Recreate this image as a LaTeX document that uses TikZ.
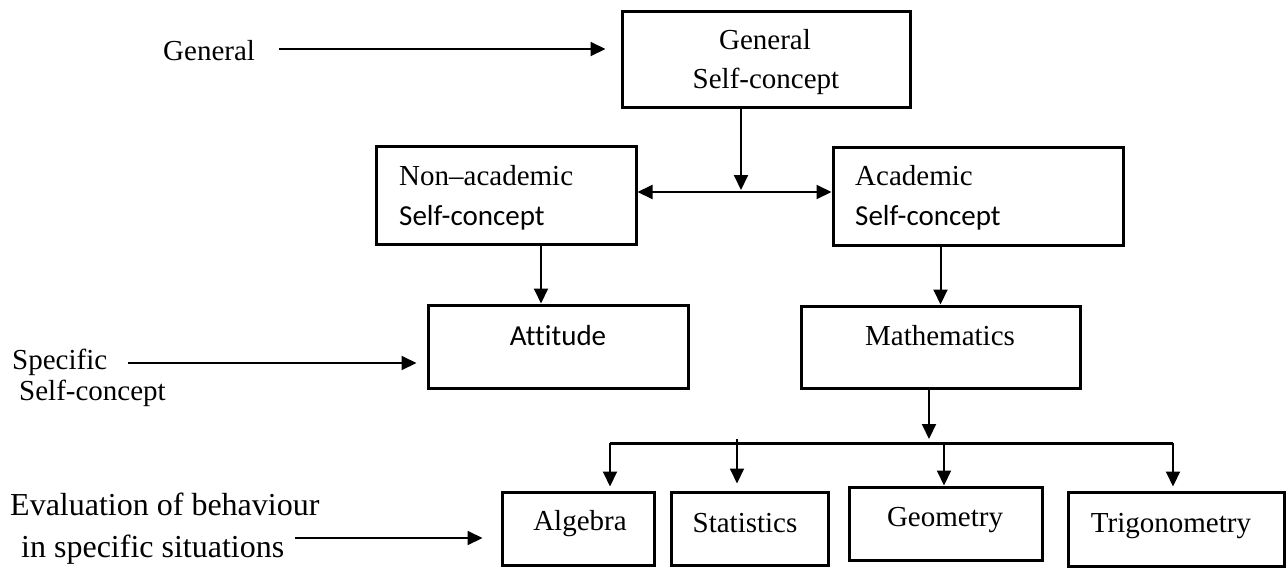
\documentclass[tikz,border=0pt]{standalone}
\usepackage{fontspec}
\setmainfont{Liberation Serif}
\newfontfamily\calib[Ligatures=NoCommon]{Carlito}
\usetikzlibrary{arrows.meta}
\begin{document}
\begin{tikzpicture}[x=1pt,y=-1pt,
  box/.style={draw,line width=3pt,inner sep=0pt},
  txt/.style={inner sep=0pt,font=\fontsize{29}{34}\selectfont},
  btxt/.style={inner sep=0pt,font=\fontsize{32}{38}\selectfont},
  stxt/.style={inner sep=0pt,font=\fontsize{29}{34}\selectfont\calib},
  arr/.style={line width=2pt,-{Triangle[length=15pt,width=14pt]}},
  darr/.style={line width=2pt,{Triangle[length=15pt,width=14pt]}-{Triangle[length=15pt,width=14pt]}},
  bar/.style={line width=3pt}
]
\useasboundingbox (0,0) rectangle (1286,568);

% boxes
\node[box,minimum width=288pt,minimum height=96pt] (gen) at (766,59) {};
\node[box,minimum width=260pt,minimum height=98pt] (nonac) at (506,195) {};
\node[box,minimum width=290pt,minimum height=98pt] (acad) at (978,196) {};
\node[box,minimum width=260pt,minimum height=83pt] (att) at (558,346.5) {};
\node[box,minimum width=279pt,minimum height=82pt] (math) at (940.5,347) {};
\node[box,minimum width=152pt,minimum height=73pt] (alg) at (578,528.5) {};
\node[box,minimum width=157pt,minimum height=73pt] (stat) at (749.5,528.5) {};
\node[box,minimum width=193pt,minimum height=73pt] (geo) at (945.5,523.5) {};
\node[box,minimum width=216pt,minimum height=74pt] (trig) at (1176,529) {};

% box texts
\node[txt,anchor=base] (gent1) at (765,49) {General};
\node[txt,anchor=base] (gent2) at (766,88) {Self-concept};
\node[txt,anchor=base west] (nonact1) at (399,185) {Non–academic};
\node[stxt,anchor=base west] (nonact2) at (399,225) {Self-concept};
\node[txt,anchor=base west] (acadt1) at (855,185) {Academic};
\node[stxt,anchor=base west] (acadt2) at (855,225) {Self-concept};
\node[stxt,anchor=base] (attt) at (558,345) {Attitude};
\node[txt,anchor=base] (matht) at (940,345) {Mathematics};
\node[txt,anchor=base] (algt) at (580,530) {Algebra};
\node[txt,anchor=base] (statt) at (745,532) {Statistics};
\node[txt,anchor=base] (geot) at (945,526) {Geometry};
\node[txt,anchor=base] (trigt) at (1171,532) {Trigonometry};

% side labels
\node[txt,anchor=base west] (lgen) at (163,60) {General};
\node[txt,anchor=base west] (lspec1) at (12,369) {Specific};
\node[txt,anchor=base west] (lspec2) at (19,400) {Self-concept};
\node[btxt,anchor=base west] (leval1) at (10,515) {Evaluation of behaviour};
\node[btxt,anchor=base west] (leval2) at (21,557) {in specific situations};

% coordinates
\coordinate (genstart) at (279,49);
\coordinate (specstart) at (128,363);
\coordinate (evalstart) at (295,538);
\coordinate (mid) at (741,192);
\coordinate (nadrop) at (541,244);
\coordinate (mdrop) at (929,388);
\coordinate (barL) at (610,443);
\coordinate (barR) at (1173,443);
\coordinate (statdrop) at (737,439);
\coordinate (geodrop) at (944,443);

% connectors
\draw[arr,shorten >=15pt] (genstart) -- (genstart -| gen.west);
\draw[arr,shorten >=2pt] (mid |- gen.south) -- (mid);
\draw[darr] (nonac.east |- mid) -- (acad.west |- mid);
\draw[arr] (nadrop) -- (nadrop |- att.north);
\draw[arr,shorten >=10pt] (specstart) -- (specstart -| att.west);
\draw[arr] (acad.south -| math.north) -- (math.north);
\draw[arr,shorten >=4pt] (mdrop) -- (mdrop |- barL);
\draw[bar] (barL) -- (barR);
\draw[arr,shorten >=4pt] (barL) -- (barL |- alg.north);
\draw[arr,shorten >=7pt] (statdrop) -- (statdrop |- stat.north);
\draw[arr] (geodrop) -- (geodrop |- geo.north);
\draw[arr,shorten >=4pt] (barR) -- (barR |- trig.north);
\draw[arr,shorten >=18pt] (evalstart) -- (evalstart -| alg.west);
\end{tikzpicture}
\end{document}
